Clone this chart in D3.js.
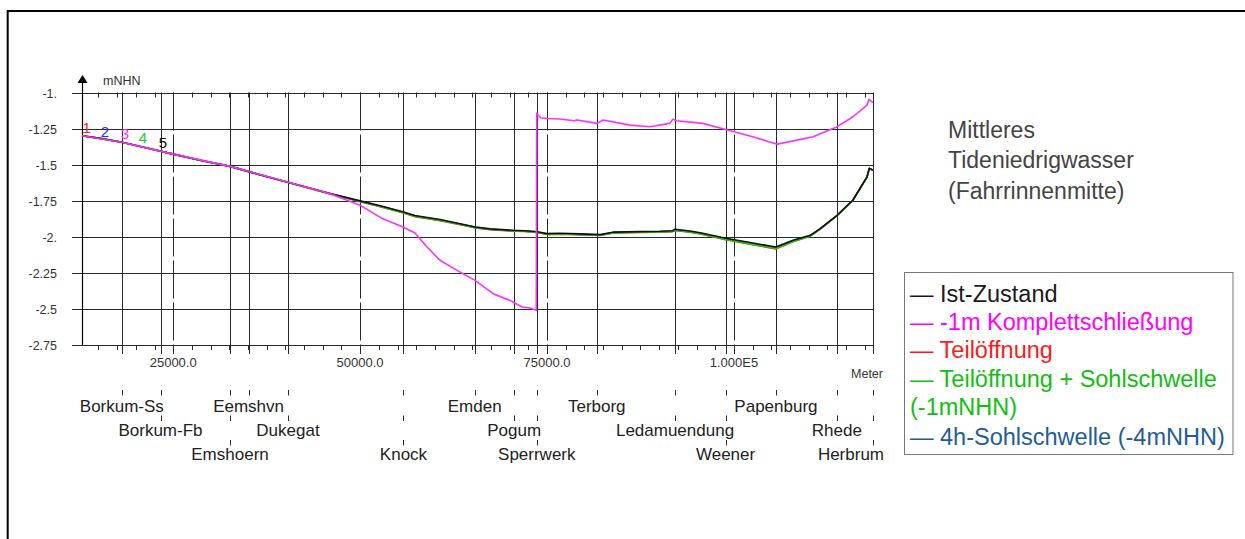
<!DOCTYPE html>
<html><head><meta charset="utf-8">
<script src="https://cdn.jsdelivr.net/npm/d3@7/dist/d3.min.js"></script>
<style>body{margin:0;background:#fff}svg{display:block}text{font-family:"Liberation Sans",Arial,sans-serif}</style>
</head><body><svg id="c" width="1245" height="539"></svg>
<script>
// ---------- data ----------
const yTicks = [-1, -1.25, -1.5, -1.75, -2, -2.25, -2.5, -2.75];
const yTickLabels = ["-1.", "-1.25", "-1.5", "-1.75", "-2.", "-2.25", "-2.5", "-2.75"];
const xTicks = [25000, 50000, 75000, 100000];
const xTickLabels = ["25000.0", "50000.0", "75000.0", "1.000E5"];
const stationNames = ["Borkum-Ss","Borkum-Fb","Emshoern","Eemshvn","Dukegat","Knock","Emden","Pogum","Sperrwerk","Terborg","Ledamuendung","Weener","Papenburg","Rhede","Herbrum"];
const stationDist = [18130,23300,32600,35080,40350,55800,65330,70600,73630,81650,92120,98880,105620,113760,118600];

const dist = [12800,15200,18150,21900,25000,28600,32600,36600,42000,46000,50000,52700,55700,57300,60700,63400,65400,67400,70450,72000,73100,73700,75000,76700,79400,82100,83800,87400,90100,91800,92100,94100,95500,98900,102150,105600,107900,110200,111500,113800,115900,117800,118100,118600];
const istZustand = [-1.300,-1.318,-1.345,-1.390,-1.427,-1.470,-1.512,-1.570,-1.645,-1.700,-1.751,-1.785,-1.826,-1.852,-1.880,-1.910,-1.932,-1.945,-1.955,-1.958,-1.962,-1.965,-1.978,-1.976,-1.980,-1.985,-1.968,-1.964,-1.962,-1.958,-1.948,-1.960,-1.972,-2.010,-2.040,-2.071,-2.024,-1.990,-1.945,-1.851,-1.747,-1.585,-1.526,-1.538];
const teiloeffnung = [-1.300,-1.318,-1.345,-1.390,-1.427,-1.470,-1.512,-1.570,-1.647,-1.704,-1.757,-1.792,-1.834,-1.860,-1.888,-1.917,-1.938,-1.951,-1.961,-1.963,-1.967,-1.970,-1.984,-1.982,-1.985,-1.990,-1.974,-1.970,-1.968,-1.964,-1.956,-1.968,-1.980,-2.020,-2.052,-2.084,-2.034,-1.996,-1.948,-1.853,-1.748,-1.586,-1.527,-1.539];
const teilSohl = [-1.300,-1.318,-1.345,-1.390,-1.427,-1.470,-1.512,-1.570,-1.646,-1.703,-1.755,-1.790,-1.832,-1.858,-1.886,-1.915,-1.937,-1.950,-1.960,-1.962,-1.966,-1.969,-1.983,-1.981,-1.984,-1.989,-1.973,-1.969,-1.967,-1.963,-1.955,-1.967,-1.978,-2.018,-2.049,-2.081,-2.032,-1.995,-1.947,-1.853,-1.748,-1.586,-1.527,-1.539];
const sohl4h = [-1.300,-1.318,-1.345,-1.390,-1.427,-1.470,-1.512,-1.570,-1.646,-1.702,-1.754,-1.789,-1.830,-1.856,-1.884,-1.913,-1.935,-1.948,-1.958,-1.961,-1.965,-1.968,-1.981,-1.979,-1.983,-1.988,-1.971,-1.967,-1.965,-1.961,-1.952,-1.964,-1.976,-2.015,-2.046,-2.077,-2.029,-1.993,-1.946,-1.852,-1.747,-1.585,-1.526,-1.538];

const distK = [12800,18150,25000,32600,42000,46000,49985,52970,55740,57340,58950,60690,62960,65370,67780,70050,71650,72720,73560,73620,74150,75000,76740,78600,79000,81700,82500,86070,88750,91420,91820,92350,95820,98900,102500,105800,108450,110600,113800,115930,117800,118070,118600];
const komplett = [-1.300,-1.345,-1.427,-1.512,-1.645,-1.702,-1.781,-1.874,-1.932,-1.974,-2.071,-2.163,-2.233,-2.302,-2.394,-2.441,-2.487,-2.494,-2.510,-1.145,-1.175,-1.180,-1.184,-1.196,-1.190,-1.214,-1.191,-1.226,-1.237,-1.214,-1.186,-1.196,-1.214,-1.256,-1.307,-1.358,-1.330,-1.307,-1.237,-1.168,-1.087,-1.047,-1.071];

const legendLabels = ["Ist-Zustand","-1m Komplettschließung","Teilöffnung","Teilöffnung + Sohlschwelle","(-1mNHN)","4h-Sohlschwelle (-4mNHN)"];
const titleLines = ["Mittleres","Tideniedrigwasser","(Fahrrinnenmitte)"];
const markerLabels = ["1","2","3","4","5"];

// ---------- layout ----------
const svg = d3.select("#c");
const X0 = 82, X1 = 873, Y0 = 92.5, Y1 = 345;
const x = d3.scaleLinear().domain([12800, 118600]).range([X0, X1]);
const y = d3.scaleLinear().domain([-1, -2.75]).range([Y0, Y1]);
const gridCol = "#2a2a2a", txtCol = "#333";

svg.append("rect").attr("width",1245).attr("height",539).attr("fill","#fff");
svg.append("path").attr("d","M7.7,539V11H1245").attr("fill","none").attr("stroke","#000").attr("stroke-width",2);

// horizontal gridlines + labels
const gy = svg.append("g");
yTicks.forEach((v,i)=>{
  const yy = Math.round(y(v))+0.5;
  gy.append("line").attr("x1",72).attr("x2",X1).attr("y1",yy).attr("y2",yy).attr("stroke",gridCol).attr("stroke-width",1);
  gy.append("text").attr("x",57).attr("y",yy).attr("dy","0.35em").attr("text-anchor","end")
    .attr("font-size",12.5).attr("fill",txtCol).text(yTickLabels[i]);
});

// minor ticks
const minor = d3.range(15000, 118600, 2500);
minor.forEach(v=>{
  const xx = Math.round(x(v))+0.5;
  svg.append("line").attr("x1",xx).attr("x2",xx).attr("y1",Y0).attr("y2",Y0+5).attr("stroke",gridCol);
  svg.append("line").attr("x1",xx).attr("x2",xx).attr("y1",Y1).attr("y2",Y1+5).attr("stroke",gridCol);
});

// major dashed lines
xTicks.forEach((v,i)=>{
  const xx = Math.round(x(v))+0.5;
  svg.append("line").attr("x1",xx).attr("x2",xx).attr("y1",Y0).attr("y2",Y1).attr("stroke",gridCol).attr("stroke-dasharray","38,4");
  svg.append("line").attr("x1",xx).attr("x2",xx).attr("y1",Y1).attr("y2",Y1+9).attr("stroke",gridCol);
  svg.append("text").attr("x",x(v)).attr("y",362).attr("dy","0.35em").attr("text-anchor","middle")
    .attr("font-size",13).attr("fill",txtCol).text(xTickLabels[i]);
});
svg.append("text").attr("x",867).attr("y",374).attr("dy","0.35em").attr("text-anchor","middle")
  .attr("font-size",12.5).attr("fill",txtCol).text("Meter");

// station lines
const rowY = [405.7, 430, 454.3], tickY = [390, 415.5, 440];
const labelMaxX = 884;
stationDist.forEach((d,i)=>{
  const xx = Math.round(x(d))+0.5;
  svg.append("line").attr("x1",xx).attr("x2",xx).attr("y1",Y0).attr("y2",Y1+9).attr("stroke",gridCol);
  const r = i % 3;
  for (let k=0;k<=r;k++){
    svg.append("line").attr("x1",xx).attr("x2",xx).attr("y1",tickY[k]).attr("y2",tickY[k]+5.5).attr("stroke",gridCol);
  }
  const t = svg.append("text").attr("x",x(d)).attr("y",rowY[r]).attr("dy","0.35em").attr("text-anchor","middle")
    .attr("font-size",17).attr("fill","#222").text(stationNames[i]);
  const w = t.node().getComputedTextLength();
  if (x(d) + w/2 > labelMaxX) t.attr("x", labelMaxX - w/2);
});

// y axis with arrow
svg.append("line").attr("x1",X0+0.5).attr("x2",X0+0.5).attr("y1",80).attr("y2",Y1).attr("stroke","#000").attr("stroke-width",1.2);
svg.append("path").attr("d",`M${X0+0.5},75L${X0-4.5},83L${X0+5.5},83Z`).attr("fill","#000");
svg.append("text").attr("x",103).attr("y",81).attr("dy","0.35em").attr("font-size",12.5).attr("fill","#3a3030").text("mNHN");

// series
const line = d3.line().x(d=>x(d[0])).y(d=>y(d[1]));
const zipS = (xs,ys)=>xs.map((v,i)=>[v,ys[i]]);
const series = [
  {xs:dist, ys:teiloeffnung, c:"#ff2020"},
  {xs:dist, ys:sohl4h, c:"#1f5c99"},
  {xs:dist, ys:teilSohl, c:"#10d010"},
  {xs:dist, ys:istZustand, c:"#111"},
  {xs:distK, ys:komplett, c:"#ff30ff"}
];
series.forEach(s=>{
  svg.append("path").attr("d",line(zipS(s.xs,s.ys))).attr("fill","none").attr("stroke",s.c).attr("stroke-width",1.6).attr("stroke-linejoin","round");
});

// marker numbers
const markerCols = ["#ff2020","#2030ff","#ff30ff","#20d020","#111"];
const markerPos = [[86.7,128],[105,131.7],[125,134],[143,138],[163,142.7]];
markerLabels.forEach((t,i)=>{
  svg.append("text").attr("x",markerPos[i][0]).attr("y",markerPos[i][1]).attr("dy","0.35em").attr("text-anchor","middle")
    .attr("font-size",15).attr("fill",markerCols[i]).text(t);
});

// title
titleLines.forEach((t,i)=>{
  svg.append("text").attr("x",948).attr("y",130+i*30.4).attr("dy","0.35em").attr("font-size",23).attr("fill","#444").text(t);
});

// legend
svg.append("rect").attr("x",904.5).attr("y",272.5).attr("width",328.5).attr("height",182).attr("fill","#fff").attr("stroke","#777");
const legCols = ["#1a1a1a","#ff00ff","#ff1a1a","#10c010","#10c010","#1f5c99"];
const legY = [293.3,321.7,350,378.3,406.7,436.7];
legendLabels.forEach((t,i)=>{
  svg.append("text").attr("x",910).attr("y",legY[i]).attr("dy","0.35em").attr("font-size",23.5).attr("fill",legCols[i])
    .text(i===4 ? t : "\u2014 " + t);
});
</script></body></html>
